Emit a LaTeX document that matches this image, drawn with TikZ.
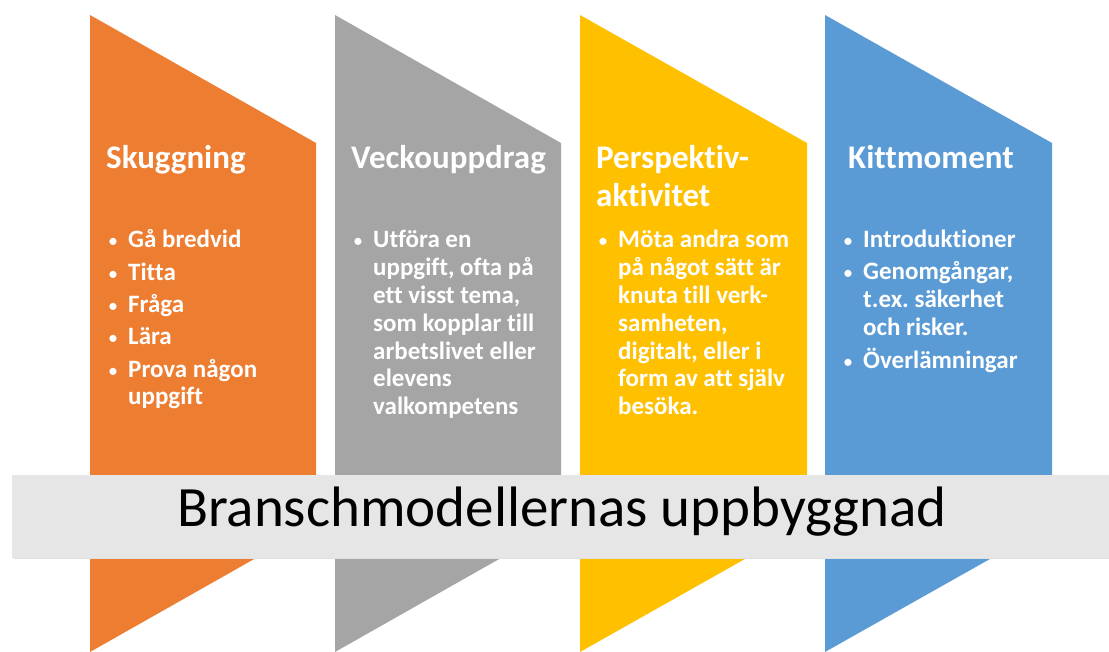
\documentclass[tikz,border=0pt]{standalone}
\usepackage{fontspec}
\setmainfont{Carlito}[Ligatures=NoCommon]
\frenchspacing

\definecolor{skugg}{HTML}{ED7D31}
\definecolor{vecko}{HTML}{A5A5A5}
\definecolor{persp}{HTML}{FFC000}
\definecolor{kitt}{HTML}{5B9BD5}
\definecolor{bandgray}{HTML}{E7E6E6}

\newcommand{\listdot}{{\mdseries\fontsize{20}{20}\selectfont•}}

\begin{document}
\begin{tikzpicture}
[
    x=1pt, y=1pt,
    heading/.style={anchor=base west, inner sep=0pt, text=white,
        font=\bfseries\fontsize{33}{37.5}\selectfont},
    items/.style={anchor=base west, inner sep=0pt, text=white,
        font=\bfseries\fontsize{25}{27.8}\selectfont},
    band/.style={fill=bandgray},
]
\useasboundingbox (0,0) rectangle (1109,652);

\fill[skugg] (90,637) -- (316,509) -- (316,128) -- (90,0) -- cycle;
\fill[vecko] (335,637) -- (561,509) -- (561,128) -- (335,0) -- cycle;
\fill[persp] (580,637) -- (807,509) -- (807,128) -- (580,0) -- cycle;
\fill[kitt] (825,637) -- (1052,509) -- (1052,128) -- (825,0) -- cycle;

\node[heading] (skugg-head) at (106,483) {Skuggning};
\node[heading] (vecko-head) at (351,483) {Veckouppdrag};
\node[heading] (persp-head) at (596,483)
    {\begin{tabular}[t]{@{}l@{}}Perspektiv-\\aktivitet\end{tabular}};
\node[heading] (kitt-head) at (848,483) {Kittmoment};

\node[items] (skugg-list) at (108,404) {\begin{tabular}[t]{@{}p{20pt}@{}l@{}}
\listdot & Gå bredvid\\[4.5pt]
\listdot & Titta\\[4.5pt]
\listdot & Fråga\\[4.5pt]
\listdot & Lära\\[4.5pt]
\listdot & Prova någon\\
         & uppgift
\end{tabular}};
\node[items] (vecko-list) at (353,404) {\begin{tabular}[t]{@{}p{20pt}@{}l@{}}
\listdot & Utföra en\\
         & uppgift, ofta på\\
         & ett visst tema,\\
         & som kopplar till\\
         & arbetslivet eller\\
         & elevens\\
         & valkompetens
\end{tabular}};
\node[items] (persp-list) at (598,404) {\begin{tabular}[t]{@{}p{20pt}@{}l@{}}
\listdot & Möta andra som\\
         & på något sätt är\\
         & knuta till verk-\\
         & samheten,\\
         & digitalt, eller i\\
         & form av att själv\\
         & besöka.
\end{tabular}};
\node[items] (kitt-list) at (843,404) {\begin{tabular}[t]{@{}p{20pt}@{}l@{}}
\listdot & Introduktioner\\[4.2pt]
\listdot & Genomgångar,\\
         & t.ex. säkerhet\\
         & och risker.\\[4.2pt]
\listdot & Överlämningar
\end{tabular}};

\fill[black!12] (13.5,92.5) rectangle (1109,175.5);
\fill[band] (12,94) rectangle (1109,177);
\node[anchor=base, inner sep=0pt, font=\fontsize{57}{60}\selectfont] (title)
    at (562,125) {Branschmodellernas uppbyggnad};
\end{tikzpicture}
\end{document}
